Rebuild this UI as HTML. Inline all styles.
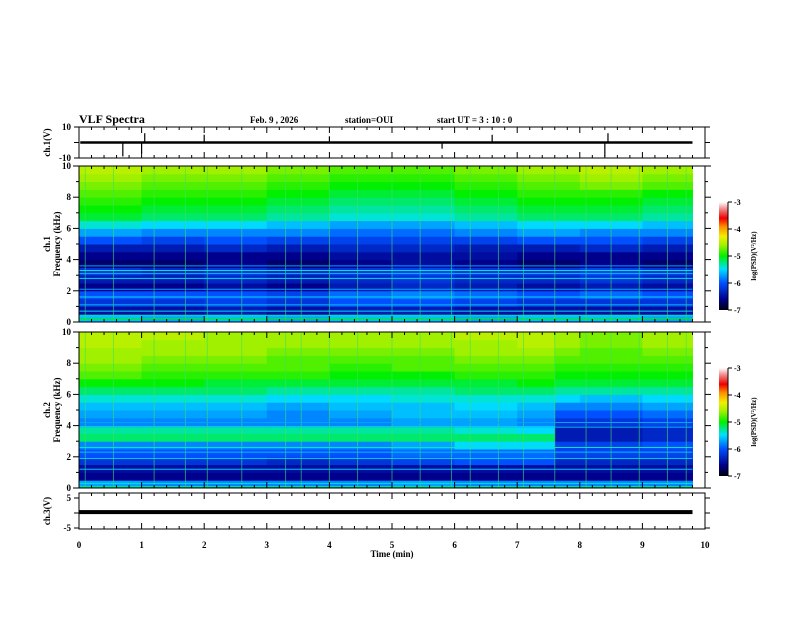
<!DOCTYPE html>
<html><head><meta charset="utf-8"><style>
body{margin:0;background:#fff;}
svg text{font-family:"Liberation Serif",serif;font-weight:bold;fill:#000;}
</style></head><body>
<svg id="c" width="792" height="612" xmlns="http://www.w3.org/2000/svg">
<defs>
<linearGradient id="cm" x1="0" y1="1" x2="0" y2="0">
<stop offset="0" stop-color="#000010"/><stop offset="0.1" stop-color="#00008c"/><stop offset="0.25" stop-color="#0050ff"/><stop offset="0.38" stop-color="#00e0ff"/><stop offset="0.5" stop-color="#00f000"/><stop offset="0.6" stop-color="#a0f000"/><stop offset="0.68" stop-color="#f0f000"/><stop offset="0.77" stop-color="#ff9000"/><stop offset="0.85" stop-color="#f00000"/><stop offset="0.93" stop-color="#f08080"/><stop offset="1" stop-color="#ffffff"/>
</linearGradient>
</defs>
<g id="root"></g>
</svg>
<script>
const timeEdges1=[0,1,2,3,4,5,6,7,8,9,9.8];
const timeEdges2=[0,1,2,3,4,5,6,7,7.6,8,9,9.8];
const freqEdges=[0,0.5,1,1.5,2,2.5,3,3.5,4,4.5,5,5.5,6,6.5,7,7.5,8,8.5,9,9.5,10];
const ch1Grid=[
[-5.6,-5.7,-5.6,-5.7,-5.6,-5.6,-5.7,-5.6,-5.6,-5.7],
[-6.5,-6.5,-6.4,-6.5,-6.4,-6.4,-6.5,-6.5,-6.5,-6.5],
[-6.2,-6.2,-6.1,-6.2,-6.0,-6.0,-6.1,-6.2,-6.2,-6.2],
[-6.0,-6.0,-6.0,-6.1,-5.9,-5.8,-5.9,-6.0,-5.9,-6.0],
[-6.6,-6.6,-6.5,-6.6,-6.4,-6.3,-6.4,-6.5,-6.4,-6.5],
[-6.4,-6.4,-6.3,-6.4,-6.3,-6.2,-6.3,-6.3,-6.2,-6.3],
[-6.2,-6.3,-6.2,-6.3,-6.2,-6.1,-6.2,-6.2,-6.1,-6.2],
[-6.7,-6.7,-6.6,-6.7,-6.6,-6.5,-6.6,-6.7,-6.6,-6.7],
[-6.6,-6.6,-6.6,-6.6,-6.5,-6.5,-6.5,-6.6,-6.6,-6.6],
[-6.4,-6.4,-6.3,-6.4,-6.3,-6.3,-6.4,-6.4,-6.3,-6.4],
[-6.0,-6.1,-6.0,-6.1,-6.1,-6.1,-6.1,-6.0,-6.0,-6.1],
[-5.7,-5.8,-5.8,-5.8,-5.9,-5.9,-5.8,-5.7,-5.8,-5.8],
[-5.4,-5.5,-5.5,-5.6,-5.7,-5.7,-5.6,-5.5,-5.5,-5.6],
[-5.1,-5.2,-5.2,-5.3,-5.4,-5.4,-5.3,-5.2,-5.2,-5.3],
[-5.0,-5.1,-5.1,-5.2,-5.3,-5.3,-5.2,-5.1,-5.1,-5.2],
[-4.9,-5.0,-5.0,-5.1,-5.2,-5.2,-5.1,-5.0,-5.0,-5.1],
[-4.8,-4.9,-4.9,-5.0,-5.1,-5.1,-5.0,-4.9,-4.9,-5.0],
[-4.7,-4.8,-4.8,-4.9,-5.0,-5.0,-4.9,-4.8,-4.7,-4.8],
[-4.6,-4.7,-4.7,-4.8,-4.9,-4.9,-4.8,-4.7,-4.6,-4.7],
[-4.5,-4.6,-4.6,-4.7,-4.8,-4.8,-4.7,-4.6,-4.5,-4.6]];
const ch2Grid=[
[-5.7,-5.8,-5.8,-5.8,-5.8,-5.7,-5.8,-5.8,-5.8,-5.8,-5.8],
[-6.6,-6.6,-6.6,-6.6,-6.6,-6.6,-6.6,-6.6,-6.6,-6.6,-6.6],
[-6.5,-6.5,-6.5,-6.5,-6.5,-6.5,-6.5,-6.5,-6.5,-6.5,-6.5],
[-6.2,-6.2,-6.2,-6.3,-6.2,-6.1,-6.0,-6.0,-6.3,-6.3,-6.3],
[-6.0,-6.0,-6.0,-6.0,-6.0,-5.9,-5.9,-5.9,-6.1,-6.1,-6.1],
[-5.8,-5.8,-5.8,-5.8,-5.8,-5.7,-5.5,-5.5,-6.1,-6.1,-6.0],
[-5.2,-5.2,-5.2,-5.2,-5.2,-5.2,-5.2,-5.2,-6.4,-6.4,-6.3],
[-5.3,-5.3,-5.3,-5.3,-5.3,-5.3,-5.4,-5.5,-6.4,-6.4,-6.3],
[-5.8,-5.8,-5.8,-5.8,-5.8,-5.7,-5.7,-5.8,-6.2,-6.2,-6.1],
[-5.7,-5.7,-5.7,-5.8,-5.7,-5.6,-5.6,-5.7,-6.0,-6.0,-5.9],
[-5.6,-5.6,-5.6,-5.7,-5.6,-5.6,-5.5,-5.6,-5.8,-5.8,-5.7],
[-5.4,-5.4,-5.4,-5.5,-5.5,-5.4,-5.4,-5.4,-5.5,-5.6,-5.5],
[-5.2,-5.2,-5.2,-5.3,-5.3,-5.3,-5.2,-5.2,-5.3,-5.3,-5.3],
[-5.0,-5.0,-5.1,-5.1,-5.1,-5.1,-5.1,-5.0,-5.1,-5.1,-5.1],
[-4.8,-4.9,-4.9,-4.9,-5.0,-5.0,-4.9,-4.9,-5.0,-5.0,-5.0],
[-4.7,-4.8,-4.8,-4.8,-4.9,-4.8,-4.8,-4.8,-4.9,-4.9,-4.9],
[-4.6,-4.7,-4.7,-4.8,-4.8,-4.8,-4.7,-4.7,-4.8,-4.8,-4.8],
[-4.6,-4.6,-4.6,-4.7,-4.7,-4.7,-4.6,-4.6,-4.7,-4.8,-4.7],
[-4.5,-4.6,-4.6,-4.6,-4.6,-4.6,-4.6,-4.5,-4.6,-4.7,-4.6],
[-4.5,-4.5,-4.6,-4.6,-4.6,-4.6,-4.5,-4.5,-4.6,-4.7,-4.6]];
// narrowband line frequencies (kHz) and levels
const ch1LineFreqs=[0.2,0.4,0.7,1.1,1.6,2.1,2.8,3.1,3.3,3.6];
const ch1LineLevels=[-5.0,-5.3,-5.5,-5.6,-5.5,-5.7,-5.5,-5.6,-5.4,-5.7];
const ch2LineFreqs=[0.1,0.3,1.2,1.9,2.3,2.6,3.9,4.2];
const ch2LineLevels=[-5.2,-5.4,-5.6,-5.5,-5.6,-5.4,-5.6,-5.7];
// sferic (vertical streak) times, min
const sfericTimes=[0.1,0.55,1.2,1.7,2.05,2.6,3.3,3.55,4.0,4.45,5.0,5.45,5.95,6.25,6.7,7.1,7.6,8.1,8.5,8.95,9.4,9.7];
const spikeTimes=[0.7,1.0,1.05,2.0,4.0,5.8,6.6,8.4,8.45];
const spikeAmps=[-9,-7,6,5,4,-4,5,-9,6];
const ch3Level=0.3;
const xTicks=[0,1,2,3,4,5,6,7,8,9,10];
const freqTicks=[0,2,4,6,8,10];
const cbTicks=[-3,-4,-5,-6,-7];

const NS="http://www.w3.org/2000/svg";
const root=document.getElementById('root');
function mk(tag,attrs,parent){const e=document.createElementNS(NS,tag);for(const k in attrs)e.setAttribute(k,attrs[k]);(parent||root).appendChild(e);return e;}
const X0=79,X1=705;
const xs=t=>X0+(X1-X0)*t/10;
const stops=[[-7,[0,0,16]],[-6.6,[0,0,140]],[-6,[0,80,255]],[-5.48,[0,224,255]],[-5,[0,240,0]],[-4.6,[160,240,0]],[-4.28,[240,240,0]],[-3.92,[255,144,0]],[-3.6,[240,0,0]],[-3.28,[240,128,128]],[-3,[255,255,255]]];
function color(v){
 if(v<=stops[0][0])return 'rgb(0,0,16)';
 for(let i=1;i<stops.length;i++){if(v<=stops[i][0]){const a=stops[i-1],b=stops[i];const f=(v-a[0])/(b[0]-a[0]);const c=a[1].map((x,j)=>Math.round(x+(b[1][j]-x)*f));return `rgb(${c})`;}}
 return '#fff';}
function text(x,y,s,size,anchor,name,rot){const t=mk('text',{x,y,'font-size':size,'text-anchor':anchor||'start'});if(rot)t.setAttribute('transform',`rotate(-90 ${x} ${y})`);t.textContent=s;
 
 
 return t;}
function xAxisTicks(top,bot,g){for(let i=0;i<=50;i++){const x=xs(i*0.2);const L=i%5===0?6:3;mk('line',{x1:x,y1:bot,x2:x,y2:bot-L,stroke:'#000'},g);mk('line',{x1:x,y1:top,x2:x,y2:top+L,stroke:'#000'},g);}}
function spectro(top,bot,grid,edges,lineF,lineL,name){
 const g=mk('g',{});
 
 
 const ys=f=>bot-(bot-top)*f/10;
 grid.forEach((row,ri)=>row.forEach((v,ci)=>{
  const r=mk('rect',{x:xs(edges[ci]),y:ys(freqEdges[ri+1]),width:xs(edges[ci+1])-xs(edges[ci])+0.5,height:ys(freqEdges[ri])-ys(freqEdges[ri+1])+0.5,fill:color(v)},g);
  
  
 }));
 sfericTimes.forEach(t=>{const l=mk('line',{x1:xs(t),y1:top,x2:xs(t),y2:bot,stroke:'#40e060','stroke-width':1,opacity:0.6},g);
  
  });
 lineF.forEach((f,i)=>{const l=mk('line',{x1:X0,y1:ys(f),x2:xs(9.8),y2:ys(f),stroke:color(lineL[i]),'stroke-width':1},g);
  
  });
 mk('rect',{x:X0,y:top,width:X1-X0,height:bot-top,fill:'none',stroke:'#000'},g);
 xAxisTicks(top,bot,g);
 for(let f=0;f<=10;f++){const y=ys(f);const L=f%2===0?6:3;mk('line',{x1:X0,y1:y,x2:X0-L,y2:y,stroke:'#000'},g);mk('line',{x1:X1,y1:y,x2:X1+L,y2:y,stroke:'#000'},g);}
 freqTicks.forEach(f=>text(71,ys(f)+3,String(f),9,'end','freq-tick-label'));
 const mid=(top+bot)/2;
 text(50,mid,name==='spectrogram-ch1'?'ch.1':'ch.2',9,'middle','channel-label',true);
 text(60,mid,'Frequency (kHz)',9,'middle','y-axis-title',true);
}
function colorbar(top,bot){
 const g=mk('g',{});
 
 
 mk('rect',{x:719,y:top,width:9,height:bot-top,fill:'url(#cm)'},g);
 mk('line',{x1:728,y1:top,x2:728,y2:bot,stroke:'#000'},g);
 cbTicks.forEach(v=>{const y=bot-(bot-top)*(v+7)/4;mk('line',{x1:728,y1:y,x2:732,y2:y,stroke:'#000'},g);text(734,y+3,String(v),8,'start','colorbar-tick-label');});
 text(756,(top+bot)/2,'log(PSD)(V\u00B2/Hz)',7,'middle','colorbar-title',true);
}
text(79,123,'VLF Spectra',12,'start','chart-title');
text(250,123,'Feb. 9  , 2026',9,'start','date-label');
text(345,123,'station=OUI',9,'start','station-label');
text(437,123,'start  UT  =   3  : 10 : 0',9,'start','start-time-label');
(function(){const top=127,bot=158;const g=mk('g',{});
 
 
 const yv=v=>top+(bot-top)*(10-v)/20;
 mk('rect',{x:X0,y:top,width:X1-X0,height:bot-top,fill:'#fff',stroke:'#000'},g);
 xAxisTicks(top,bot,g);
 [10,0,-10].forEach(v=>{mk('line',{x1:X0,y1:yv(v),x2:X0-5,y2:yv(v),stroke:'#000'},g);mk('line',{x1:X1,y1:yv(v),x2:X1+5,y2:yv(v),stroke:'#000'},g);});
 const band=mk('rect',{x:xs(0.02),y:yv(0.8),width:xs(9.8)-xs(0.02),height:yv(-0.8)-yv(0.8),fill:'#000'},g);
 
 
 spikeTimes.forEach((t,i)=>{const l=mk('line',{x1:xs(t),y1:yv(0),x2:xs(t),y2:yv(spikeAmps[i]),stroke:'#000','stroke-width':1.2},g);
  
  });
 text(71,yv(10)+3,'10',9,'end','ch1-tick-label');text(71,yv(-10)+3,'-10',9,'end','ch1-tick-label');
 text(50,(top+bot)/2,'ch.1(V)',9,'middle','ch1-axis-title',true);
})();
spectro(166,322,ch1Grid,timeEdges1,ch1LineFreqs,ch1LineLevels,'spectrogram-ch1');
spectro(332,488,ch2Grid,timeEdges2,ch2LineFreqs,ch2LineLevels,'spectrogram-ch2');
colorbar(202,310);colorbar(368,476);
(function(){const top=493,bot=529;const g=mk('g',{});
 
 
 const yv=v=>513-v*3;
 mk('rect',{x:X0,y:top,width:X1-X0,height:bot-top,fill:'#fff',stroke:'#000'},g);
 xAxisTicks(top,bot,g);
 [5,0,-5].forEach(v=>{mk('line',{x1:X0,y1:yv(v),x2:X0-5,y2:yv(v),stroke:'#000'},g);mk('line',{x1:X1,y1:yv(v),x2:X1+5,y2:yv(v),stroke:'#000'},g);});
 const ln=mk('rect',{x:X0,y:yv(ch3Level)-2,width:xs(9.8)-X0,height:4,fill:'#000'},g);
 
 
 text(71,yv(5)+3,'5',9,'end','ch3-tick-label');text(71,yv(-5)+3,'-5',9,'end','ch3-tick-label');
 text(50,(top+bot)/2,'ch.3(V)',9,'middle','ch3-axis-title',true);
 xTicks.forEach(t=>text(xs(t),548,String(t),9,'middle','x-tick-label'));
 text(xs(5),557,'Time  (min)',9,'middle','x-axis-title');
})();
</script>
</body></html>
